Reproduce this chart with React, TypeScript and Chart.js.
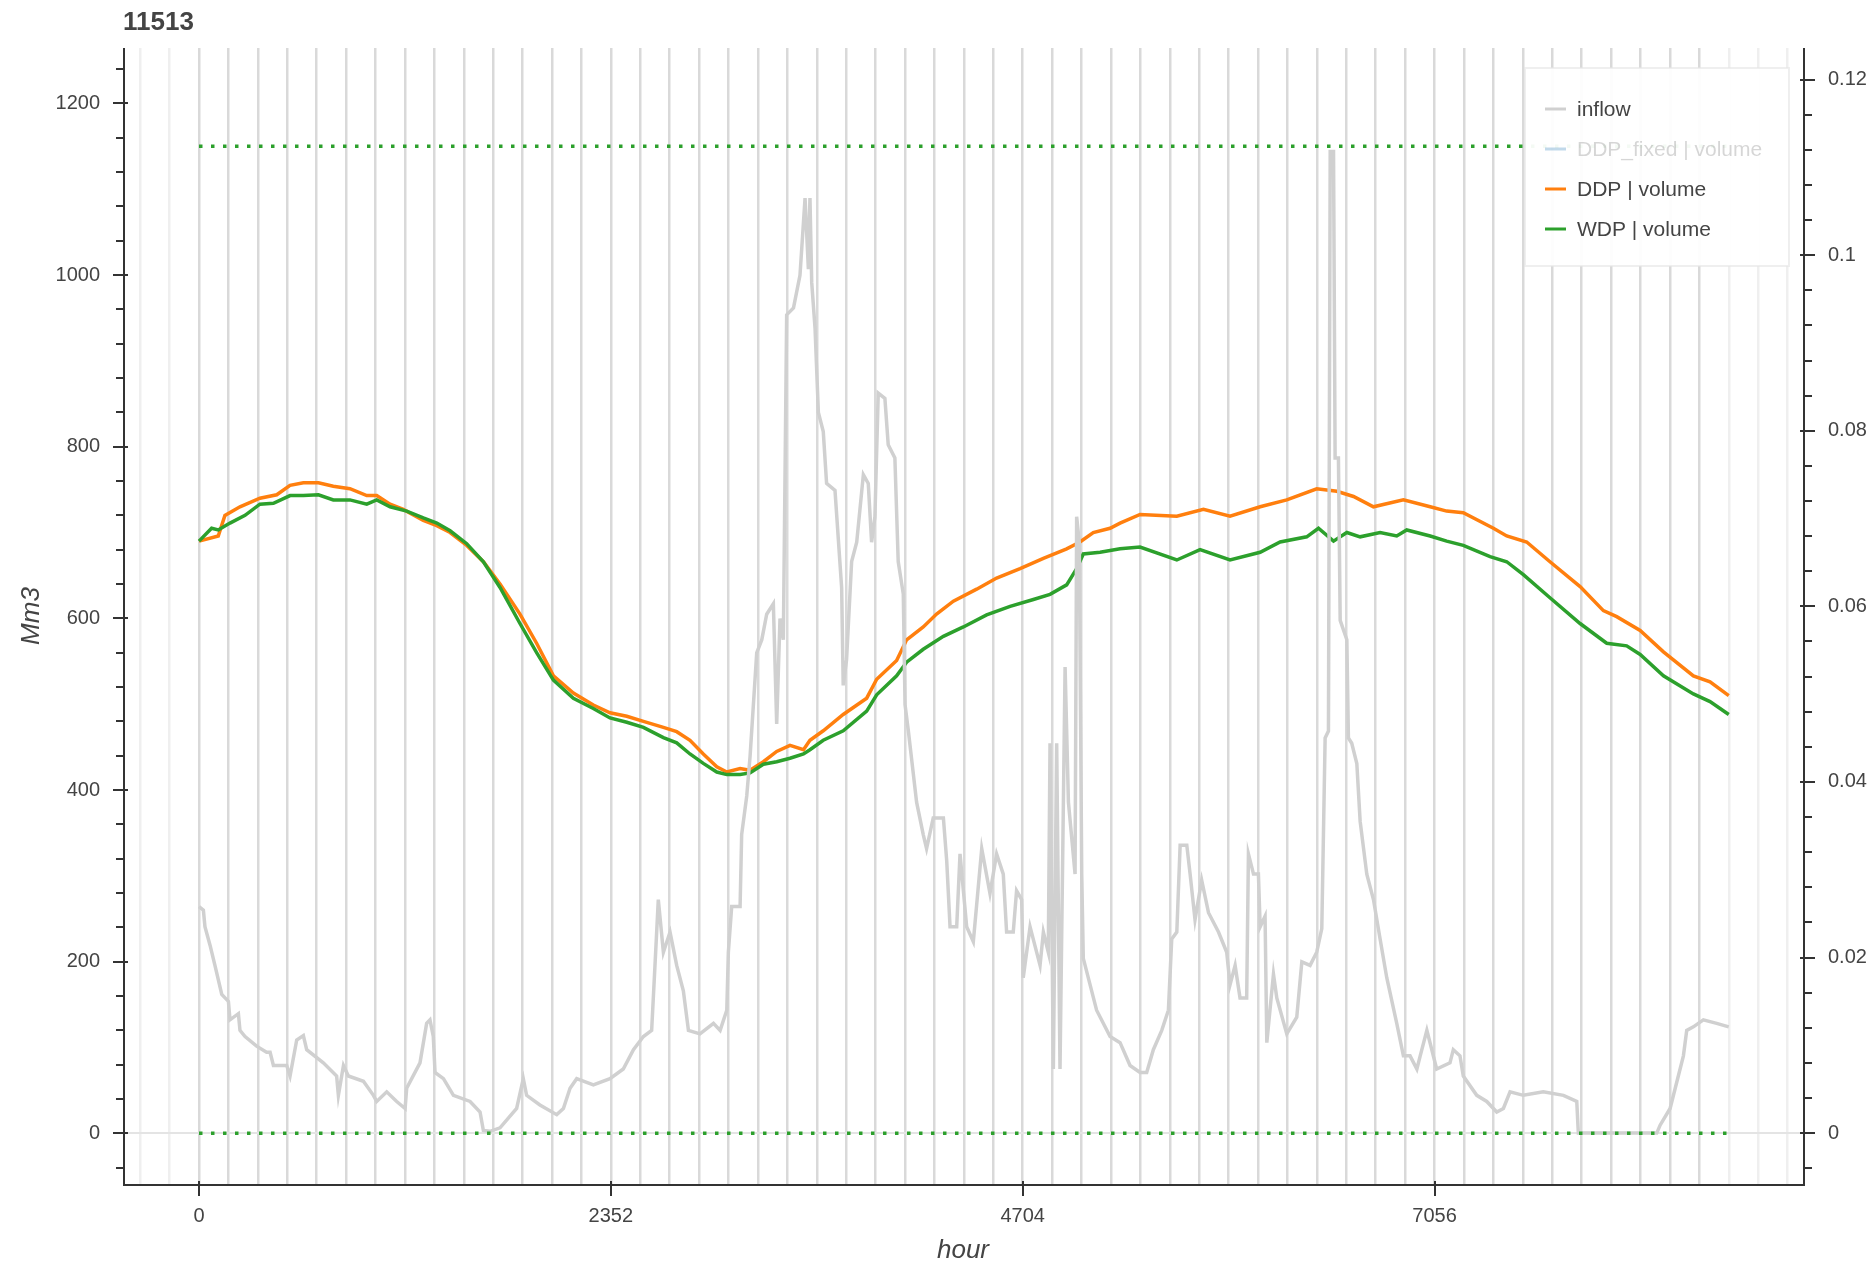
import React, { useEffect, useRef } from 'react';
import { Chart, registerables } from 'chart.js';

Chart.register(...registerables);

const FONT = "'Liberation Sans', Arial, Helvetica, sans-serif";
const TEXT_COLOR = '#444444';
const AXIS_COLOR = '#333333';

const TITLE = '11513';
const X_TITLE = 'hour';
const Y_TITLE = 'Mm3';

const X_LABEL_TICKS = [0, 2352, 4704, 7056];
const WEEK_HOURS = 168;
const DATA_END_HOUR = 8736;

// inflow (right axis)
const INFLOW_HOURS = [
  0, 25, 34, 63, 91, 130, 168, 177, 225, 234,
  263, 329, 386, 406, 425, 501, 520, 558, 596, 615,
  710, 786, 796, 825, 853, 939, 996, 1015, 1072, 1129,
  1177, 1186, 1262, 1300, 1319, 1338, 1348, 1396, 1453, 1548,
  1605, 1624, 1662, 1719, 1814, 1852, 1871, 1947, 2043, 2081,
  2119, 2157, 2252, 2347, 2423, 2481, 2538, 2585, 2604, 2623,
  2652, 2690, 2728, 2766, 2795, 2861, 2938, 2976, 3014, 3023,
  3042, 3090, 3099, 3128, 3147, 3166, 3185, 3214, 3242, 3280,
  3299, 3318, 3337, 3356, 3395, 3432, 3461, 3480, 3489, 3499,
  3518, 3537, 3565, 3584, 3632, 3670, 3679, 3698, 3727, 3756,
  3794, 3822, 3841, 3860, 3879, 3917, 3936, 3974, 3993, 4022,
  4032, 4051, 4098, 4136, 4155, 4193, 4251, 4270, 4289, 4327,
  4346, 4384, 4422, 4470, 4517, 4555, 4593, 4612, 4650, 4669,
  4698, 4707, 4746, 4803, 4822, 4850, 4860, 4879, 4898, 4917,
  4946, 4965, 5003, 5012, 5027, 5041, 5050, 5126, 5203, 5260,
  5317, 5374, 5412, 5450, 5498, 5536, 5555, 5584, 5603, 5641,
  5660, 5688, 5726, 5765, 5822, 5869, 5888, 5917, 5945, 5983,
  5993, 6022, 6050, 6060, 6088, 6098, 6136, 6155, 6212, 6269,
  6298, 6345, 6383, 6412, 6431, 6450, 6460, 6479, 6488, 6507,
  6517, 6555, 6564, 6583, 6612, 6631, 6669, 6707, 6745, 6783,
  6840, 6878, 6916, 6955, 6974, 7012, 7068, 7144, 7163, 7201,
  7220, 7297, 7354, 7411, 7449, 7487, 7563, 7677, 7792, 7868,
  7877, 8325, 8344, 8401, 8448, 8477, 8496, 8534, 8591, 8667,
  8736,
];
const INFLOW = [
  0.0258, 0.0254, 0.0235, 0.0214, 0.0191, 0.0158, 0.0150, 0.0129, 0.0136, 0.0117,
  0.0110, 0.0099, 0.0092, 0.0092, 0.0077, 0.0077, 0.0065, 0.0106, 0.0111, 0.0095,
  0.0080, 0.0065, 0.0043, 0.0077, 0.0065, 0.0059, 0.0043, 0.0036, 0.0047, 0.0036,
  0.0028, 0.0051, 0.0080, 0.0125, 0.0129, 0.0110, 0.0069, 0.0062, 0.0043, 0.0036,
  0.0024, 0.0003, 0.0002, 0.0006, 0.0028, 0.0062, 0.0043, 0.0032, 0.0021, 0.0028,
  0.0051, 0.0062, 0.0055, 0.0062, 0.0073, 0.0095, 0.0110, 0.0117, 0.0191, 0.0266,
  0.0206, 0.0229, 0.0191, 0.0162, 0.0117, 0.0113, 0.0125, 0.0117, 0.0140, 0.0206,
  0.0258, 0.0258, 0.0340, 0.0384, 0.0429, 0.0488, 0.0547, 0.0562, 0.0591, 0.0603,
  0.0466, 0.0586, 0.0562, 0.0932, 0.0940, 0.0977, 0.1065, 0.0984, 0.1065, 0.0969,
  0.0917, 0.0821, 0.0799, 0.0740, 0.0732, 0.0621, 0.0510, 0.0539, 0.0651, 0.0673,
  0.0750, 0.0740, 0.0673, 0.0702, 0.0843, 0.0837, 0.0784, 0.0769, 0.0651, 0.0614,
  0.0488, 0.0458, 0.0377, 0.0340, 0.0324, 0.0359, 0.0359, 0.0310, 0.0235, 0.0235,
  0.0318, 0.0235, 0.0218, 0.0324, 0.0273, 0.0318, 0.0295, 0.0229, 0.0229, 0.0276,
  0.0266, 0.0177, 0.0235, 0.0191, 0.0229, 0.0206, 0.0444, 0.0073, 0.0444, 0.0073,
  0.0531, 0.0377, 0.0295, 0.0702, 0.0673, 0.0295, 0.0199, 0.0140, 0.0110, 0.0103,
  0.0077, 0.0069, 0.0069, 0.0095, 0.0117, 0.0140, 0.0221, 0.0229, 0.0328, 0.0328,
  0.0295, 0.0243, 0.0288, 0.0251, 0.0229, 0.0206, 0.0169, 0.0191, 0.0154, 0.0154,
  0.0318, 0.0295, 0.0295, 0.0235, 0.0247, 0.0103, 0.0181, 0.0154, 0.0113, 0.0132,
  0.0195, 0.0191, 0.0206, 0.0233, 0.0450, 0.0458, 0.1118, 0.1118, 0.0769, 0.0769,
  0.0584, 0.0562, 0.0450, 0.0444, 0.0421, 0.0355, 0.0295, 0.0266, 0.0221, 0.0177,
  0.0125, 0.0088, 0.0088, 0.0073, 0.0088, 0.0117, 0.0073, 0.0080, 0.0095, 0.0088,
  0.0065, 0.0043, 0.0036, 0.0024, 0.0028, 0.0047, 0.0043, 0.0047, 0.0043, 0.0036,
  0, 0, 0.0009, 0.0028, 0.0065, 0.0088, 0.0117, 0.0121, 0.0129, 0.0125,
  0.0121,
];

// DDP | volume (Mm3)
const DDP_HOURS = [
  0, 110, 148, 234, 348, 444, 520, 596, 682, 767,
  862, 958, 1015, 1091, 1167, 1281, 1358, 1434, 1529, 1624,
  1719, 1833, 1928, 2024, 2138, 2252, 2347, 2443, 2538, 2652,
  2728, 2804, 2880, 2957, 3014, 3090, 3147, 3223, 3299, 3375,
  3452, 3489, 3565, 3679, 3813, 3870, 3984, 4041, 4136, 4212,
  4308, 4441, 4555, 4689, 4822, 4955, 5031, 5107, 5203, 5260,
  5374, 5584, 5736, 5888, 6060, 6212, 6383, 6498, 6593, 6707,
  6878, 7031, 7125, 7220, 7392, 7468, 7582, 7715, 7887, 8020,
  8096, 8230, 8363, 8534, 8629, 8736,
];
const DDP_VOLUME = [
  690, 696, 720, 730, 740, 744, 755, 758, 758, 754,
  751, 743, 743, 733, 727, 714, 708, 700, 685, 666,
  640, 605, 571, 533, 513, 499, 490, 486, 480, 473,
  468, 458, 442, 427, 421, 425, 423, 433, 445, 452,
  447, 458, 469, 488, 507, 529, 551, 575, 590, 605,
  620, 634, 647, 658, 670, 681, 689, 700, 705, 711,
  721, 719, 727, 719, 730, 738, 751, 748, 742, 730,
  738, 730, 725, 723, 705, 696, 689, 666, 637, 609,
  602, 586, 561, 533, 526, 510,
];

// WDP | volume (Mm3)
const WDP_HOURS = [
  0, 72, 110, 177, 263, 348, 425, 520, 596, 682,
  767, 862, 958, 1015, 1091, 1186, 1281, 1358, 1434, 1529,
  1624, 1719, 1833, 1928, 2024, 2138, 2252, 2347, 2443, 2538,
  2652, 2728, 2804, 2880, 2957, 3014, 3090, 3147, 3223, 3299,
  3375, 3452, 3489, 3565, 3679, 3813, 3870, 3984, 4041, 4136,
  4251, 4365, 4498, 4632, 4765, 4860, 4955, 5012, 5050, 5146,
  5260, 5374, 5584, 5717, 5888, 6060, 6174, 6326, 6393, 6479,
  6555, 6631, 6745, 6840, 6897, 7031, 7125, 7220, 7373, 7468,
  7563, 7715, 7887, 8039, 8153, 8230, 8363, 8534, 8629, 8736,
];
const WDP_VOLUME = [
  690, 705, 703, 711, 720, 733, 734, 743, 743, 744,
  738, 738, 733, 738, 730, 725, 717, 711, 702, 687,
  666, 636, 594, 560, 528, 507, 495, 484, 479, 473,
  461, 455, 442, 431, 421, 418, 418, 420, 430, 433,
  437, 442, 447, 458, 469, 492, 511, 533, 549, 564,
  579, 590, 604, 614, 622, 628, 639, 658, 675, 677,
  681, 683, 668, 680, 668, 677, 689, 695, 705, 690,
  700, 695, 700, 696, 703, 696, 690, 685, 672, 666,
  651, 624, 594, 571, 568, 558, 533, 512, 503, 488,
];

// WDP volume limits (dotted)
const LIMIT_HOURS = [0, 8736];
const WDP_MAX_VOLUME = [1150, 1150];
const WDP_MIN_VOLUME = [0, 0];

const pts = (xs: number[], ys: number[]) => xs.map((x, i) => ({ x, y: ys[i] }));

const decorPlugin = {
  id: 'decor',
  afterDraw(chart: any) {
    const { ctx, chartArea: ca, scales } = chart;
    const xs = scales.x;
    const ys = scales.y;
    const y1 = scales.y1;
    const lx = ca.left + 1;
    const rx = ca.right + 1;
    const by = ca.bottom + 1;
    ctx.save();
    ctx.strokeStyle = AXIS_COLOR;
    ctx.lineWidth = 2;
    ctx.beginPath();
    ctx.moveTo(lx, ca.top);
    ctx.lineTo(lx, by + 1);
    ctx.moveTo(lx - 1, by);
    ctx.lineTo(rx + 1, by);
    ctx.moveTo(rx, ca.top);
    ctx.lineTo(rx, by + 1);
    // left axis ticks
    ys.ticks.forEach((t: any) => {
      const p = Math.round(ys.getPixelForValue(t.value));
      if (p < ca.top || p > ca.bottom) return;
      const major = Math.abs(t.value % 200) < 1e-6;
      ctx.moveTo(lx - (major ? 11 : 8), p);
      ctx.lineTo(lx + (major ? 4 : 0), p);
    });
    // right axis ticks
    y1.ticks.forEach((t: any) => {
      const p = Math.round(y1.getPixelForValue(t.value));
      if (p < ca.top || p > ca.bottom) return;
      const k = Math.round(t.value / 0.004);
      const major = k % 5 === 0;
      ctx.moveTo(rx - (major ? 4 : 0), p);
      ctx.lineTo(rx + (major ? 11 : 8), p);
    });
    // bottom axis ticks
    X_LABEL_TICKS.forEach((v) => {
      const p = Math.round(xs.getPixelForValue(v));
      ctx.moveTo(p, by - 4);
      ctx.lineTo(p, by + 11);
    });
    ctx.stroke();

    // legend
    const items = chart.data.datasets.filter((d: any) => d.inLegend !== false);
    const bw = 264;
    const bh = 198;
    const bx = ca.right - 14 - bw;
    const byy = ca.top + 20;
    ctx.fillStyle = 'rgba(255,255,255,0.95)';
    ctx.fillRect(bx, byy, bw, bh);
    ctx.strokeStyle = 'rgba(229,229,229,0.6)';
    ctx.lineWidth = 2;
    ctx.strokeRect(bx, byy, bw, bh);
    ctx.font = `21px ${FONT}`;
    ctx.textBaseline = 'middle';
    ctx.textAlign = 'left';
    items.forEach((d: any, i: number) => {
      const cy = byy + 41 + i * 40;
      ctx.strokeStyle = d.hidden ? 'rgba(31,119,180,0.28)' : d.borderColor;
      ctx.lineWidth = 3;
      ctx.beginPath();
      ctx.moveTo(bx + 20, cy);
      ctx.lineTo(bx + 41, cy);
      ctx.stroke();
      ctx.fillStyle = d.hidden ? 'rgba(68,68,68,0.22)' : TEXT_COLOR;
      ctx.fillText(d.label, bx + 52, cy + 1);
    });
    ctx.restore();
  },
};

export default function App() {
  const ref = useRef<HTMLCanvasElement>(null);
  useEffect(() => {
    if (!ref.current) return;
    const chart = new Chart(ref.current, {
      type: 'line',
      data: {
        datasets: [
          {
            label: 'inflow',
            data: pts(INFLOW_HOURS, INFLOW),
            yAxisID: 'y1',
            borderColor: '#d0d0d0',
            borderWidth: 3.5,
            pointRadius: 0,
            tension: 0,
            order: 2,
          },
          {
            label: 'DDP_fixed | volume',
            data: [],
            hidden: true,
            yAxisID: 'y',
            borderColor: '#1f77b4',
            borderWidth: 3,
            pointRadius: 0,
            order: 5,
          },
          {
            label: 'DDP | volume',
            data: pts(DDP_HOURS, DDP_VOLUME),
            yAxisID: 'y',
            borderColor: '#ff7f0e',
            borderWidth: 3.5,
            pointRadius: 0,
            tension: 0,
            order: 4,
          },
          {
            label: 'WDP | volume',
            data: pts(WDP_HOURS, WDP_VOLUME),
            yAxisID: 'y',
            borderColor: '#2ca02c',
            borderWidth: 3.5,
            pointRadius: 0,
            tension: 0,
            order: 3,
          },
          {
            label: 'WDP | max volume',
            inLegend: false,
            data: pts(LIMIT_HOURS, WDP_MAX_VOLUME),
            yAxisID: 'y',
            borderColor: '#2ca02c',
            borderWidth: 3.5,
            borderDash: [3.5, 8.5],
            borderCapStyle: 'butt',
            pointRadius: 0,
            order: 1,
          },
          {
            label: 'WDP | min volume',
            inLegend: false,
            data: pts(LIMIT_HOURS, WDP_MIN_VOLUME),
            yAxisID: 'y',
            borderColor: '#2ca02c',
            borderWidth: 3.5,
            borderDash: [3.5, 8.5],
            borderCapStyle: 'butt',
            pointRadius: 0,
            order: 1,
          },
        ] as any,
      },
      options: {
        responsive: false,
        maintainAspectRatio: false,
        devicePixelRatio: 1,
        animation: false,
        events: [],
        layout: { padding: 0 },
        plugins: {
          legend: { display: false },
          tooltip: { enabled: false },
          title: {
            display: true,
            text: TITLE,
            align: 'start',
            fullSize: false,
            color: TEXT_COLOR,
            font: { family: FONT, size: 26, weight: 'bold', lineHeight: 1.2 },
            padding: { top: 7, bottom: 9.8 },
          },
        },
        scales: {
          x: {
            type: 'linear',
            position: 'bottom',
            min: -434,
            max: 9160,
            afterFit: (s: any) => { s.height = 81; },
            afterBuildTicks: (s: any) => {
              const t: any[] = [];
              for (let h = -2 * WEEK_HOURS; h <= s.max; h += WEEK_HOURS) {
                if (h >= s.min) t.push({ value: h });
              }
              s.ticks = t;
            },
            ticks: {
              autoSkip: false,
              maxRotation: 0,
              padding: 20,
              color: TEXT_COLOR,
              font: { family: FONT, size: 20 },
              callback: (v: any) => (X_LABEL_TICKS.includes(v) ? String(v) : ''),
            },
            grid: {
              drawTicks: false,
              lineWidth: 2.5,
              color: (c: any) => {
                const v = c.tick ? c.tick.value : -1;
                return v >= 0 && v < DATA_END_HOUR ? '#d9d9d9' : '#efefef';
              },
            },
            border: { display: false },
            title: {
              display: true,
              text: X_TITLE,
              color: TEXT_COLOR,
              font: { family: FONT, size: 26, style: 'italic', lineHeight: 1 },
              padding: { top: 0, bottom: 1 },
            },
          },
          y: {
            type: 'linear',
            position: 'left',
            min: -59,
            max: 1264.5,
            afterFit: (s: any) => { s.width = 123; },
            afterBuildTicks: (s: any) => {
              const t: any[] = [];
              for (let v = -40; v <= 1240; v += 40) t.push({ value: v });
              s.ticks = t;
            },
            ticks: {
              autoSkip: false,
              padding: 23,
              color: TEXT_COLOR,
              font: { family: FONT, size: 20 },
              callback: (v: any) => (Math.abs(v % 200) < 1e-6 ? String(v) : ''),
            },
            grid: {
              drawTicks: false,
              lineWidth: 2,
              color: (c: any) => (c.tick && c.tick.value === 0 ? '#e4e4e4' : 'rgba(0,0,0,0)'),
            },
            border: { display: false },
            title: {
              display: true,
              text: Y_TITLE,
              color: TEXT_COLOR,
              font: { family: FONT, size: 26, style: 'italic', lineHeight: 1.2 },
              padding: { top: 16.4, bottom: 0 },
            },
          },
          y1: {
            type: 'linear',
            position: 'right',
            min: -0.0058,
            max: 0.1236,
            afterFit: (s: any) => { s.width = 73; },
            afterBuildTicks: (s: any) => {
              const t: any[] = [];
              for (let k = -1; k * 0.004 <= s.max + 1e-9; k++) t.push({ value: k * 0.004 });
              s.ticks = t;
            },
            ticks: {
              autoSkip: false,
              padding: 25,
              color: TEXT_COLOR,
              font: { family: FONT, size: 20 },
              callback: (v: any) => {
                const k = Math.round(v / 0.004);
                return k % 5 === 0 ? String(Number((k * 0.004).toFixed(3))) : '';
              },
            },
            grid: { display: false, drawTicks: false },
            border: { display: false },
          },
        },
      } as any,
      plugins: [decorPlugin],
    });
    return () => chart.destroy();
  }, []);

  return (
    <div style={{ position: 'fixed', left: 0, top: 0, width: 1876, height: 1265, background: '#ffffff' }}>
      <canvas ref={ref} width={1876} height={1265} style={{ display: 'block', width: 1876, height: 1265 }} />
    </div>
  );
}
